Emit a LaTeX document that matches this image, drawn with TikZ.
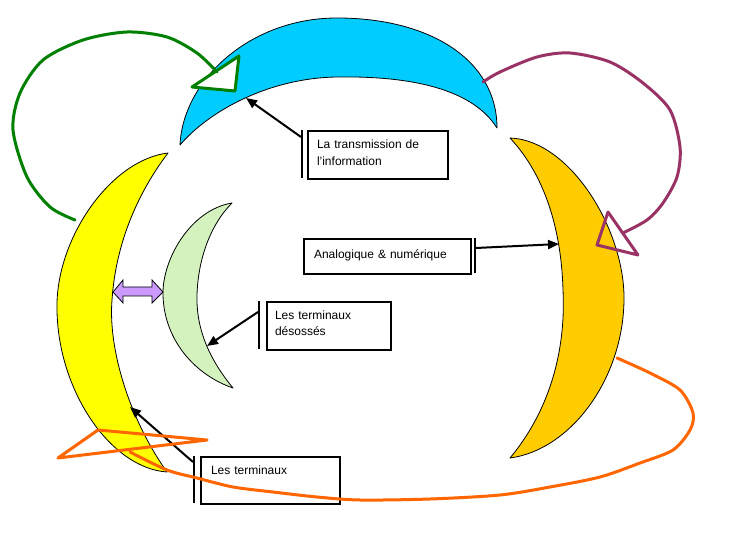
\documentclass[tikz,border=0pt]{standalone}
\usepackage{fontspec}
\setmainfont{Liberation Sans}
\usetikzlibrary{arrows.meta}
\definecolor{cyanfill}{RGB}{0,204,255}
\definecolor{yellowfill}{RGB}{255,255,0}
\definecolor{goldfill}{RGB}{255,204,0}
\definecolor{mintfill}{RGB}{212,242,190}
\definecolor{lavender}{RGB}{204,153,255}
\definecolor{loopgreen}{RGB}{0,128,0}
\definecolor{loopplum}{RGB}{153,51,102}
\definecolor{looporange}{RGB}{255,102,0}
\tikzset{
  crescent/.style={draw=black, line width=0.8pt, line join=round},
  loopline/.style={line width=3pt, line join=round, line cap=round},
  labelbox/.style={draw=black, line width=2pt, anchor=north west, inner ysep=0pt,
    align=left, font=\fontsize{12}{17}\selectfont},
  accentbar/.style={line width=2pt},
  leader/.style={line width=2pt, -{Triangle[length=11pt,width=9pt]}},
}
\begin{document}
\begin{tikzpicture}[x=1pt,y=-1pt]
\fill[white] (0,0) rectangle (746,534);
\useasboundingbox (0,0) rectangle (746,534);

% blue crescent (top)
\path[crescent, fill=cyanfill]
  (180,145) .. controls (183,80) and (250,18) .. (337,18)
  .. controls (430,18) and (497,60) .. (497,128)
  .. controls (470,85) and (400,76) .. (337,77)
  .. controls (270,78) and (210,110) .. (180,145) -- cycle;

% yellow crescent (left)
\path[crescent, fill=yellowfill]
  (168,153) .. controls (110,160) and (55,240) .. (57,310)
  .. controls (58,390) and (110,468) .. (167,472)
  .. controls (130,420) and (108,350) .. (112,300)
  .. controls (116,240) and (140,190) .. (168,153) -- cycle;

% gold crescent (right)
\path[crescent, fill=goldfill]
  (510,138) .. controls (570,140) and (625,230) .. (624,300)
  .. controls (623,380) and (570,450) .. (510,458)
  .. controls (550,410) and (566,350) .. (563,290)
  .. controls (561,220) and (540,170) .. (510,138) -- cycle;

% light green crescent (inner)
\path[crescent, fill=mintfill]
  (232,203) .. controls (190,210) and (162,260) .. (163,295)
  .. controls (164,340) and (195,375) .. (233,388)
  .. controls (210,360) and (196,330) .. (197,295)
  .. controls (198,260) and (210,225) .. (232,203) -- cycle;

% double arrow
\draw[fill=lavender, line width=0.8pt, line join=miter]
  (113,292) -- (123,280) -- (123,287) -- (152,287) -- (152,280) -- (163,292)
  -- (152,303) -- (152,296) -- (123,296) -- (123,303) -- cycle;

% label boxes
\node[labelbox, minimum width=140pt, text width=122pt, inner xsep=9pt,
      text height=18pt, text depth=30pt] (box1) at (307,130) {La transmission de\\l'information};
\node[labelbox, minimum width=167pt, text width=147pt, inner xsep=10pt,
      text height=20pt, text depth=15pt] (box2) at (303,238) {Analogique \& numérique};
\node[labelbox, minimum width=124pt, text width=108pt, inner xsep=8pt,
      text height=17pt, text depth=31pt] (box3) at (266,301) {Les terminaux\\désossés};
\node[labelbox, minimum width=139pt, text width=119pt, inner xsep=10pt,
      text height=17pt, text depth=30pt] (box4) at (200,456) {Les terminaux};

% accent bars
\coordinate (bar1a) at (302,130); \coordinate (bar1b) at (302,178);
\coordinate (bar2a) at (475,238); \coordinate (bar2b) at (475,273);
\coordinate (bar3a) at (259,301); \coordinate (bar3b) at (259,349);
\coordinate (bar4a) at (194,456); \coordinate (bar4b) at (194,503);
\draw[accentbar] (bar1a) -- (bar1b);
\draw[accentbar] (bar2a) -- (bar2b);
\draw[accentbar] (bar3a) -- (bar3b);
\draw[accentbar] (bar4a) -- (bar4b);

% leaders
\coordinate (lead1) at (301,137); \coordinate (tip1) at (246,98);
\coordinate (lead2) at (476,248); \coordinate (tip2) at (559,244);
\coordinate (lead3) at (258,312); \coordinate (tip3) at (207,346);
\coordinate (lead4) at (193,462); \coordinate (tip4) at (130,407);
\draw[leader] (lead1) -- (tip1);
\draw[leader] (lead2) -- (tip2);
\draw[leader] (lead3) -- (tip3);
\draw[leader] (lead4) -- (tip4);

% green loop
\draw[loopline, draw=loopgreen, fill=white] (192,87) -- (239,56) -- (235,91) -- cycle;
\draw[loopline, draw=loopgreen]
  plot[smooth] coordinates {(75,220) (50,207) (27,177) (13,130) (20,93) (43,60) (83,40) (127,32) (167,37) (197,53) (217,72)};

% plum loop
\draw[loopline, draw=loopplum] (608,212) -- (597,245) -- (638,255) -- cycle;
\draw[loopline, draw=loopplum]
  plot[smooth] coordinates {(483,82) (500,72) (537,57) (570,53) (610,62) (643,83) (670,110) (680,147) (677,177) (663,203) (647,220) (623,233)};

% orange loop
\draw[loopline, draw=looporange] (58,458) -- (98,430) -- (207,440) -- cycle;
\draw[loopline, draw=looporange]
  plot[smooth] coordinates {(617,358) (650,373) (680,390) (693,413) (690,430) (673,450) (640,463) (600,477) (550,487) (500,495) (430,499) (360,500) (317,497) (273,492) (233,487) (197,478) (167,470) (130,452)};
\end{tikzpicture}
\end{document}
